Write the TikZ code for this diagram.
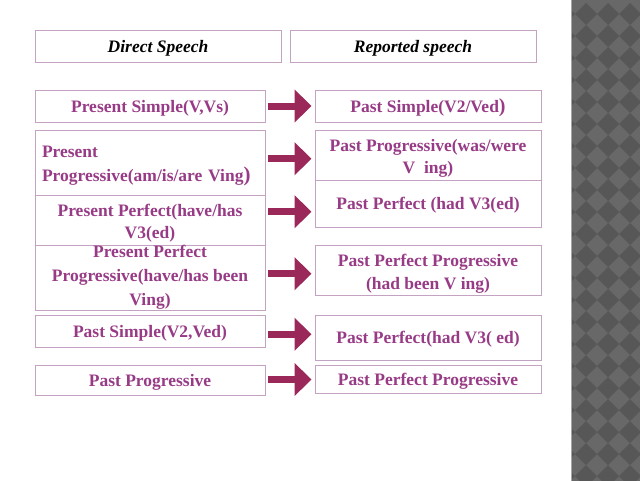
\documentclass[tikz,border=0pt]{standalone}
\usepackage{fontspec}
\setmainfont{Liberation Serif}
\usetikzlibrary{positioning, arrows.meta, calc}
\definecolor{tensepurple}{HTML}{983B86}
\definecolor{boxlilac}{HTML}{C4A2C2}
\definecolor{arrowred}{HTML}{9A2859}
\definecolor{stripdark}{HTML}{575757}
\definecolor{striplight}{HTML}{686868}
\newcommand\lift{\rule{0pt}{19pt}}
\tikzset{
  T/.style={draw=boxlilac, line width=0.9pt, inner sep=0pt, align=center,
    font=\fontsize{17.5}{24}\selectfont\bfseries, text=tensepurple},
  one/.style={text depth=0pt},
  L/.style={T, minimum width=230},
  R/.style={T, minimum width=226},
  H/.style={draw=boxlilac, line width=0.9pt, inner sep=0pt, minimum width=246,
    minimum height=32, text depth=0pt, font=\fontsize{17.5}{20}\selectfont\bfseries\itshape},
  ba/.style={-{Triangle[width=32pt,length=17pt]}, line width=7pt,
    draw=arrowred, shorten <=3pt, shorten >=3pt},
}

\begin{document}
\begin{tikzpicture}[x=1pt, y=-1pt]
\useasboundingbox (0,0) rectangle (640,480);

% checkered strip on the right
\fill[striplight] (571,-2) rectangle (642,483);
\begin{scope}
  \clip (571,-2) rectangle (642,483);
  \foreach \i in {0,...,3}
    \foreach \j in {0,...,22}
      \fill[stripdark] ({564+22*\i},{14+22*\j}) +(-11,0) -- +(0,-11) -- +(11,0) -- +(0,11) -- cycle;
\end{scope}
\draw[black!35, line width=0.8pt] (571.5,-2) -- (571.5,483);

% headers
\node[H] at (158,46) (direct) {Direct Speech};
\node[H] at (413,46) (reported) {Reported speech};

% direct speech tenses
\node[L, one, minimum height=32] at (150,106) (l1) {Present Simple(V,Vs)};
\node[L, minimum height=65, text width=216, align=left] at (150,162.5) (l2)
  {\lift Present\\Progressive(am/is/are Ving{\fontsize{21}{24}\selectfont)}};
\node[L, minimum height=50, font=\fontsize{17.5}{22}\selectfont\bfseries] at (150,220) (l3)
  {\lift Present Perfect(have/has\\V3(ed)};
\node[L, minimum height=65, font=\fontsize{17.5}{24}\selectfont\bfseries] at (150,277.5) (l4)
  {Present Perfect\\Progressive(have/has been\\Ving)};
\node[L, one, minimum height=32] at (150,331) (l5) {Past Simple(V2,Ved)};
\node[L, one, minimum height=30] at (150,380) (l6) {Past Progressive};

% reported speech tenses
\node[R, one, minimum height=32] at (428,106) (r1)
  {Past Simple(V2/Ved{\fontsize{20}{24}\selectfont)}};
\node[R, minimum height=50, font=\fontsize{17.5}{22}\selectfont\bfseries] at (428,155) (r2)
  {\lift Past Progressive(was/were\\V\ \ ing)};
\node[R, one, minimum height=47] at (428,203.5) (r3) {Past Perfect (had V3(ed)};
\node[R, minimum height=50, font=\fontsize{17.5}{23}\selectfont\bfseries] at (428,270) (r4)
  {\lift Past Perfect Progressive\\(had been V ing)};
\node[R, one, minimum height=45] at (428,337.5) (r5) {Past Perfect(had V3( ed)};
\node[R, one, minimum height=28] at (428,379) (r6) {Past Perfect Progressive};

% arrows
\foreach \n in {1,...,6} {
  \coordinate (m\n) at ($(l\n.east)!0.5!(r\n.west)$);
  \draw[ba] (m\n -| l\n.east) -- (m\n -| r\n.west);
}

\end{tikzpicture}
\end{document}
